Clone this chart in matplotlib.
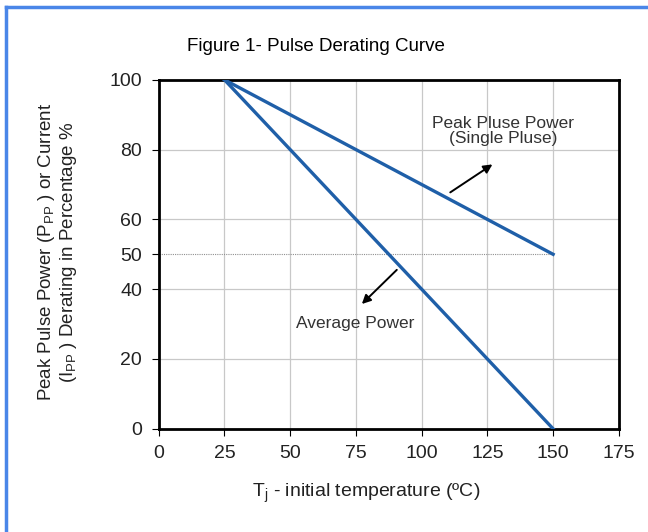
import matplotlib
matplotlib.use("Agg")
import matplotlib.pyplot as plt
from matplotlib.lines import Line2D

plt.rcParams["font.family"] = ["Liberation Sans", "DejaVu Sans"]
plt.rcParams["mathtext.fontset"] = "custom"
plt.rcParams["mathtext.rm"] = "Liberation Sans"
plt.rcParams["mathtext.it"] = "Liberation Sans"

# data
temps = [25, 150]
peak_pulse = [100, 50]
average = [100, 0]
x_ticks = [0, 25, 50, 75, 100, 125, 150, 175]
y_ticks = [0, 20, 40, 50, 60, 80, 100]
grid_y = [20, 40, 60, 80]
ref_level = 50

blue = "#1f5fa8"
txt = "#222222"

fig = plt.figure(figsize=(6.48, 5.32), dpi=100)
ax = fig.add_axes([0.245, 0.194, 0.710, 0.656])

for x in x_ticks[1:-1]:
    ax.axvline(x, color="#c8c8c8", lw=0.9, zorder=0)
for y in grid_y:
    ax.axhline(y, color="#c8c8c8", lw=0.9, zorder=0)
ax.plot([0, 150], [ref_level, ref_level], color="#909090", lw=0.8, ls=(0, (1, 1)), zorder=1)

ax.plot(temps, peak_pulse, color=blue, lw=2.4, zorder=3)
ax.plot(temps, average, color=blue, lw=2.4, zorder=3)

ax.annotate("", xy=(127.8, 76.2), xytext=(110, 67.3),
            arrowprops=dict(arrowstyle="-|>", color="black", lw=1.4, mutation_scale=13))
ax.annotate("", xy=(76.5, 35.2), xytext=(91.3, 46.1),
            arrowprops=dict(arrowstyle="-|>", color="black", lw=1.4, mutation_scale=13))
ax.text(131, 85.3, "Peak Pluse Power\n(Single Pluse)", ha="center", va="center",
        fontsize=12.5, color="#333333", linespacing=1.05)
ax.text(74.6, 30.1, "Average Power", ha="center", va="center", fontsize=12.5, color="#333333")

ax.set_xlim(0, 175)
ax.set_ylim(0, 100)
ax.set_xticks(x_ticks)
ax.set_yticks(y_ticks)
ax.tick_params(labelsize=14, length=5, width=0.8, direction="out", pad=7, labelcolor=txt)
for s in ax.spines.values():
    s.set_linewidth(2)

fig.text(0.565, 0.072, r"T$_{\mathrm{j}}$ - initial temperature (ºC)", ha="center", va="center",
         fontsize=14, color=txt)
fig.text(0.089, 0.526,
         "Peak Pulse Power (P$_{\\mathrm{PP}}$ ) or Current\n(I$_{\\mathrm{PP}}$ ) Derating in Percentage %",
         ha="center", va="center", rotation=90, fontsize=13.5, color=txt, linespacing=1.1)

fig.text(0.487, 0.912, "Figure 1- Pulse Derating Curve", ha="center", va="center", fontsize=13.5)

# blue frame on top and left edges
fig.add_artist(Line2D([0.01, 1.0], [0.986, 0.986], color="#4a86e8", lw=2.5, transform=fig.transFigure))
fig.add_artist(Line2D([0.01, 0.01], [0.0, 0.986], color="#4a86e8", lw=2.5, transform=fig.transFigure))

fig.savefig("out.png", dpi=100)
